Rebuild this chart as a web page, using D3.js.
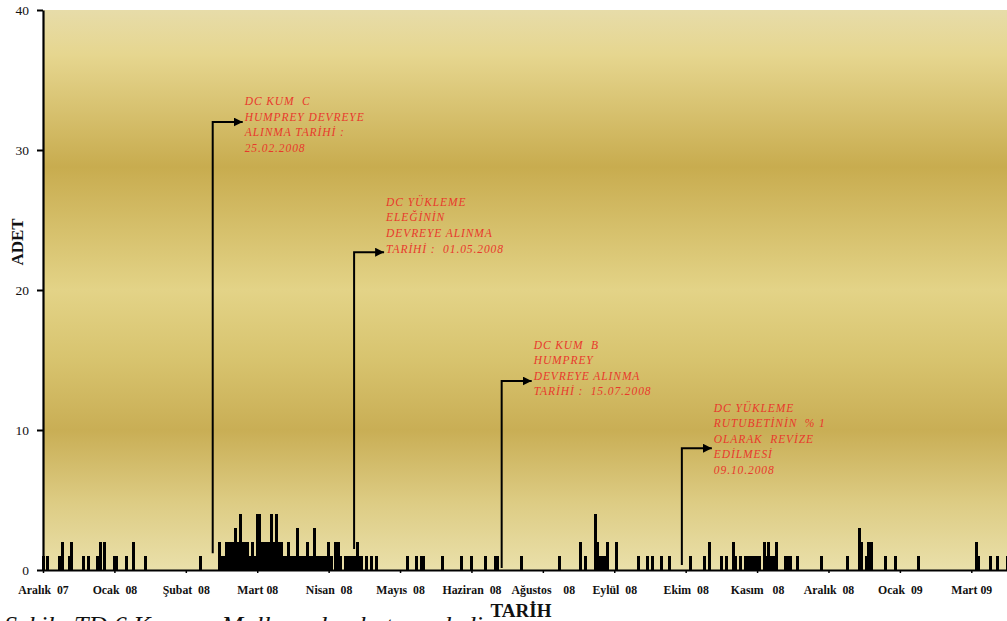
<!DOCTYPE html>
<html><head><meta charset="utf-8">
<script src="https://cdn.jsdelivr.net/npm/d3@7"></script>
<style>body{margin:0;background:#fff;overflow:hidden} svg{display:block}</style>
</head><body><svg id="c" width="1007" height="621"></svg>
<script>
// ---- data ----
const days = [0,2,7,8,11,12,17,19,23,24,26,30,31,35,38,43,66,
 74,75,76,77,78,79,80,81,82,83,84,85,86,87,88,89,90,91,92,93,94,95,96,97,98,99,100,101,102,103,104,105,106,107,108,109,110,111,112,113,114,115,116,117,118,119,120,121,123,124,125,127,128,129,130,131,132,133,134,136,138,140,
 153,157,159,160,168,176,180,186,190,191,201,217,226,228,232,233,234,235,236,237,241,250,254,256,260,263,
 272,278,280,285,287,290,291,293,295,296,297,298,299,300,301,303,304,305,306,307,308,312,313,314,317,327,338,343,344,346,347,348,354,358,368,392,393,398,401,405];
const counts = [1,1,1,2,1,2,1,1,1,2,2,1,1,1,2,1,1,
 2,1,1,2,2,2,2,3,2,4,2,2,2,1,2,1,4,4,2,2,2,2,4,2,4,2,2,1,1,2,1,1,1,3,1,1,1,2,1,1,3,1,1,1,1,1,2,1,2,2,1,1,1,1,1,1,2,1,1,1,1,1,
 1,1,1,1,1,1,1,1,1,1,1,1,2,1,4,2,1,1,1,2,2,1,1,1,1,1,
 1,1,2,1,1,2,1,1,1,1,1,1,1,1,1,2,1,2,1,1,2,1,1,1,1,1,1,3,2,1,2,2,1,1,1,2,1,1,1,1];
const tickDays = [0,30,60,90,120,150,180,210,240,270,300,330,360,390];
const tickLabels = ["Aralık  07","Ocak  08","Şubat  08","Mart 08","Nisan  08","Mayıs  08","Haziran  08","Ağustos    08","Eylül  08","Ekim  08","Kasım   08","Aralık  08","Ocak  09","Mart 09"];
const yTicks = [0,10,20,30,40];
const annDays = [71.3,130.7,192.7,268.4];
const annBase = [1.2,1.5,0.15,0.35];
const annTop = [32,22.7,13.5,8.7];
const annTextTop = [33.5,26.3,16.1,11.6];
const annTexts = [
 ["DC KUM  C","HUMPREY DEVREYE","ALINMA TARİHİ :","25.02.2008"],
 ["DC YÜKLEME","ELEĞİNİN","DEVREYE ALINMA","TARİHİ :  01.05.2008"],
 ["DC KUM  B","HUMPREY","DEVREYE ALINMA","TARİHİ :  15.07.2008"],
 ["DC YÜKLEME","RUTUBETİNİN  % 1","OLARAK  REVİZE","EDİLMESİ","09.10.2008"]
];

// ---- chart ----
const svg = d3.select("#c");
const x = d3.scaleLinear().domain([0,405]).range([43,1007]);
const y = d3.scaleLinear().domain([0,40]).range([570,10]);

const defs = svg.append("defs");
const g = defs.append("linearGradient").attr("id","bg").attr("gradientUnits","userSpaceOnUse")
  .attr("x1",0).attr("x2",0).attr("y1",y(40)).attr("y2",y(0));
[[0,"#e7dca9"],[0.08,"#e6d68f"],[0.28,"#c8ac4f"],[0.5,"#e3d387"],[0.62,"#d8c46f"],[0.75,"#c9ae55"],[0.88,"#ddcc84"],[1,"#eae0aa"]]
 .forEach(s=>g.append("stop").attr("offset",s[0]).attr("stop-color",s[1]));
defs.append("marker").attr("id","arr").attr("viewBox","0 0 10 10").attr("refX",10).attr("refY",5)
  .attr("markerWidth",4.5).attr("markerHeight",4.5).attr("markerUnits","strokeWidth").attr("orient","auto")
  .append("path").attr("d","M0,0L10,5L0,10Z").attr("fill","#000");
defs.append("clipPath").attr("id","clip").append("rect").attr("x",0).attr("y",0).attr("width",1007).attr("height",571);

svg.append("rect").attr("x",x(0)).attr("y",y(40)).attr("width",x(405)-x(0)).attr("height",y(0)-y(40)).attr("fill","url(#bg)");

const data = days.map((d,i)=>({d, v:counts[i]}));
svg.append("g").attr("clip-path","url(#clip)").attr("shape-rendering","crispEdges")
  .selectAll("rect").data(data).join("rect")
  .attr("x",d=>x(d.d)-1.5).attr("width",3)
  .attr("y",d=>y(d.v)).attr("height",d=>y(0)-y(d.v)).attr("fill","#000");

// annotations
annDays.forEach((d,i)=>{
  const px = x(d);
  svg.append("path").attr("d",`M${px},${y(annBase[i])}V${y(annTop[i])}H${px+30}`)
    .attr("fill","none").attr("stroke","#000").attr("stroke-width",2).attr("marker-end","url(#arr)");
  const t = svg.append("text").attr("x",px+32).attr("y",y(annTextTop[i])+4)
    .attr("font-family","'Liberation Serif', serif").attr("font-style","italic").attr("font-size",11.5)
    .attr("letter-spacing",0.9).attr("fill","#e8392c").style("white-space","pre");
  annTexts[i].forEach((s,j)=>t.append("tspan").attr("x",px+32).attr("dy",j?15.6:0).text(s));
});

// axes
const ya = svg.append("g").attr("transform",`translate(${x(0)},0)`)
  .call(d3.axisLeft(y).tickValues(yTicks).tickSize(6).tickSizeOuter(0).tickPadding(8));
ya.select(".domain").attr("stroke-width",2.2);
ya.selectAll(".tick line").attr("stroke-width",2);
ya.selectAll("text").attr("font-family","'Liberation Serif', serif").attr("font-size",13.5).attr("fill","#111");

const xa = svg.append("g").attr("transform",`translate(0,${y(0)})`)
  .call(d3.axisBottom(x).tickValues(tickDays).tickSize(3).tickSizeOuter(0).tickPadding(13).tickFormat((d,i)=>tickLabels[i]));
xa.select(".domain").attr("stroke-width",2.2);
xa.selectAll(".tick line").attr("stroke-width",1.5);
xa.selectAll("text").attr("font-family","'Liberation Serif', serif").attr("font-weight","bold").attr("font-size",11.8)
  .attr("fill","#111").style("white-space","pre");

svg.append("text").attr("transform","translate(23,242) rotate(-90)").attr("text-anchor","middle")
  .attr("font-family","'Liberation Serif', serif").attr("font-weight","bold").attr("font-size",17).attr("fill","#111").text("ADET");
svg.append("text").attr("x",521).attr("y",617).attr("text-anchor","middle")
  .attr("font-family","'Liberation Serif', serif").attr("font-weight","bold").attr("font-size",19).attr("fill","#111").text("TARİH");
svg.append("text").attr("x",4).attr("y",634).attr("font-family","'Liberation Serif', serif").attr("font-style","italic")
  .attr("font-size",26).attr("fill","#111").style("white-space","pre").text("Şekil   TD 6 Kum      Mallarında   hata   adedi");
</script></body></html>
